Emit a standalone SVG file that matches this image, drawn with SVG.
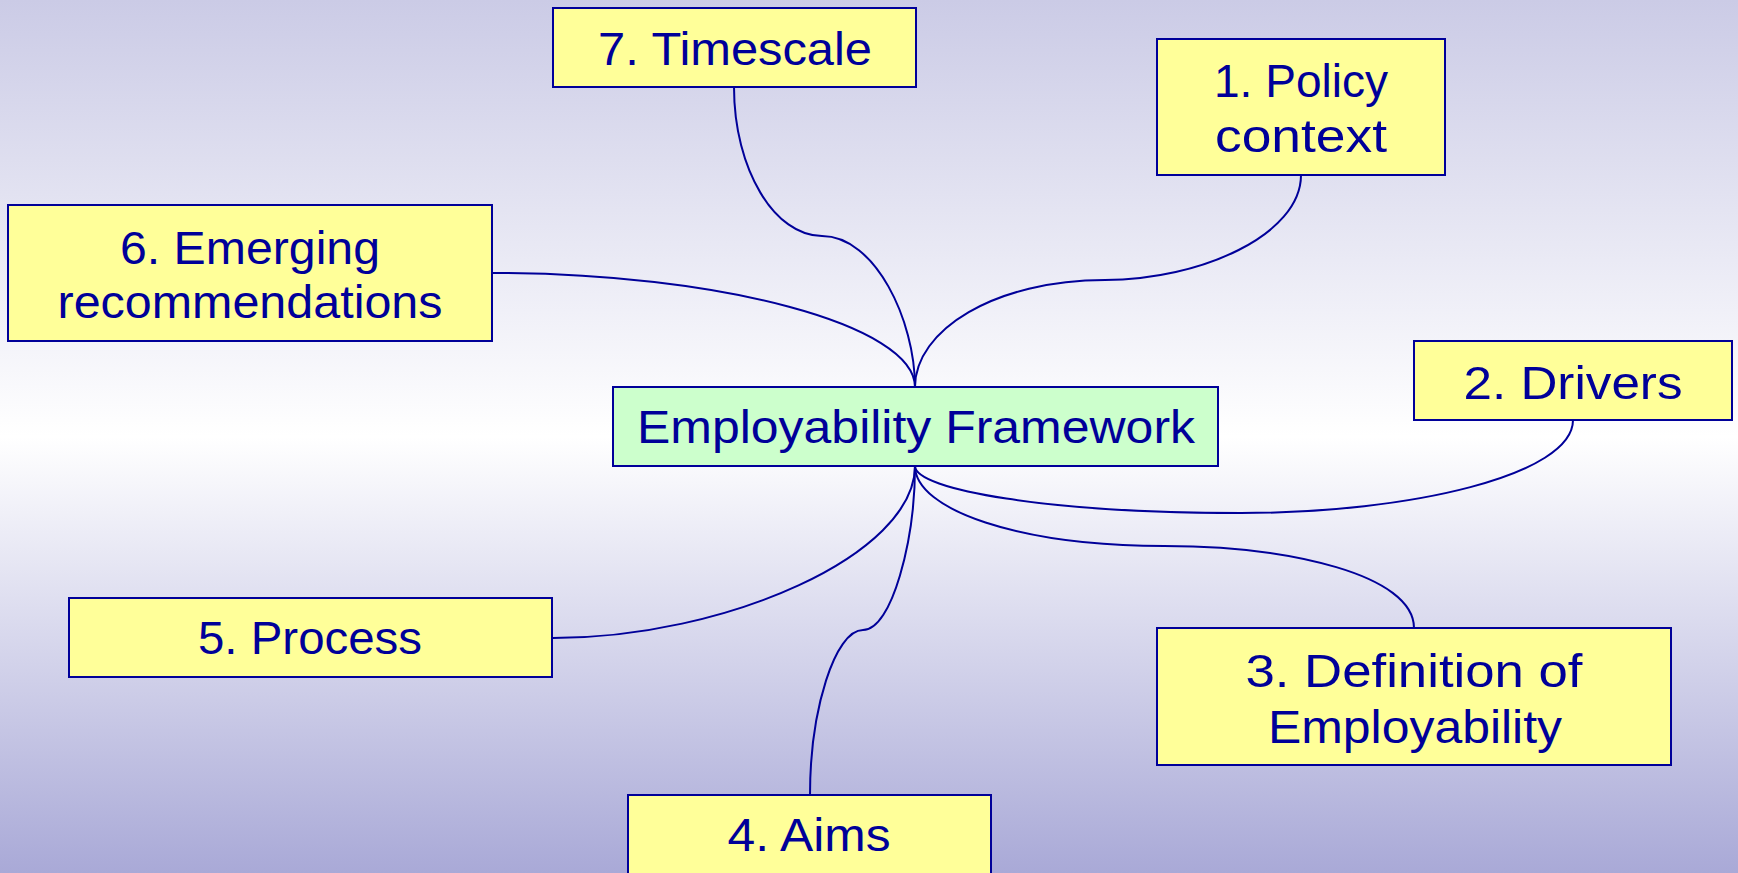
<svg xmlns="http://www.w3.org/2000/svg" width="1738" height="873" viewBox="0 0 1738 873">
<defs>
<linearGradient id="bg" x1="0" y1="0" x2="0" y2="1">
<stop offset="0" stop-color="#cbcbe6"/>
<stop offset="0.5" stop-color="#ffffff"/>
<stop offset="1" stop-color="#a9a9d7"/>
</linearGradient>
</defs>
<style>
.box{fill:#ffff99;stroke:#000099;stroke-width:2}
.core{fill:#ccffcc;stroke:#000099;stroke-width:2}
.lbl{font-family:"Comic Sans MS","Liberation Sans",sans-serif;font-size:46px;fill:#000099;text-anchor:middle}
.con{fill:none;stroke:#000099;stroke-width:2}
</style>
<rect x="0" y="0" width="1738" height="873" fill="url(#bg)"/>
<g id="connectors">
<path class="con" d="M734,87 C734,170 775,236 822,236 C875,236 915,320 915,387"/>
<path class="con" d="M1301,175 C1301,235 1200,280 1105,280 C995,280 915,330 915,387"/>
<path class="con" d="M492,273 C720,273 915,325 915,387"/>
<path class="con" d="M1573,420 C1573,475 1410,513 1241,513 C1050,513 915,490 915,466"/>
<path class="con" d="M1414,628 C1414,575 1290,546 1164,546 C1020,546 915,510 915,466"/>
<path class="con" d="M553,638 C725,638 915,555 915,466"/>
<path class="con" d="M810,795 C810,710 835,630 863,630 C892,630 915,540 915,466"/>
</g>
<g id="n7"><rect class="box" x="553" y="8" width="363" height="79"/><text class="lbl" x="735" y="65" textLength="274" lengthAdjust="spacingAndGlyphs">7. Timescale</text></g>
<g id="n1"><rect class="box" x="1157" y="39" width="288" height="136"/><text class="lbl" x="1301" y="97" textLength="174" lengthAdjust="spacingAndGlyphs">1. Policy</text><text class="lbl" x="1301" y="152" textLength="172" lengthAdjust="spacingAndGlyphs">context</text></g>
<g id="n6"><rect class="box" x="8" y="205" width="484" height="136"/><text class="lbl" x="250" y="264" textLength="260" lengthAdjust="spacingAndGlyphs">6. Emerging</text><text class="lbl" x="250" y="318" textLength="385" lengthAdjust="spacingAndGlyphs">recommendations</text></g>
<g id="n2"><rect class="box" x="1414" y="341" width="318" height="79"/><text class="lbl" x="1573" y="399" textLength="219" lengthAdjust="spacingAndGlyphs">2. Drivers</text></g>
<g id="center"><rect class="core" x="613" y="387" width="605" height="79"/><text class="lbl" x="916" y="443" textLength="558" lengthAdjust="spacingAndGlyphs">Employability Framework</text></g>
<g id="n5"><rect class="box" x="69" y="598" width="483" height="79"/><text class="lbl" x="310" y="654" textLength="224" lengthAdjust="spacingAndGlyphs">5. Process</text></g>
<g id="n3"><rect class="box" x="1157" y="628" width="514" height="137"/><text class="lbl" x="1414" y="687" textLength="337" lengthAdjust="spacingAndGlyphs">3. Definition of</text><text class="lbl" x="1415" y="743" textLength="294" lengthAdjust="spacingAndGlyphs">Employability</text></g>
<g id="n4"><rect class="box" x="628" y="795" width="363" height="100"/><text class="lbl" x="809" y="851" textLength="163" lengthAdjust="spacingAndGlyphs">4. Aims</text></g>
</svg>
